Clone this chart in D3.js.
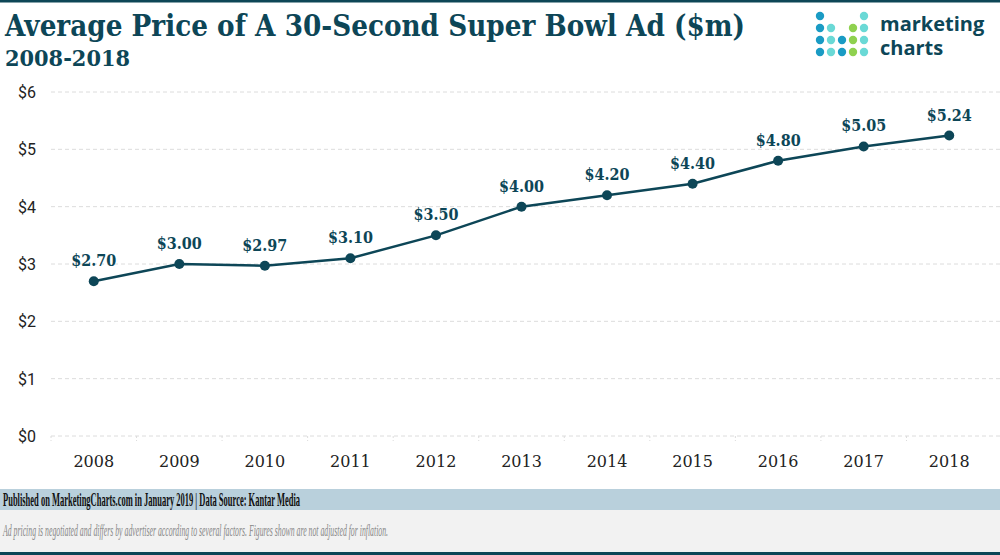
<!DOCTYPE html>
<html>
<head>
<meta charset="utf-8">
<script src="https://cdnjs.cloudflare.com/ajax/libs/d3/7.8.5/d3.min.js"></script>
<style>
  body { margin: 0; background: #fff; }
  svg { display: block; }
</style>
</head>
<body>
<svg id="chart"></svg>
<script>
// données
const years = ["2008", "2009", "2010", "2011", "2012", "2013", "2014", "2015", "2016", "2017", "2018"];
const prices = [2.70, 3.00, 2.97, 3.10, 3.50, 4.00, 4.20, 4.40, 4.80, 5.05, 5.24];
const yTicks = [0, 1, 2, 3, 4, 5, 6];

const W = 1000, H = 555;
const dark = "#0d4657";

const svg = d3.select("#chart").attr("width", W).attr("height", H);

// bande du haut
svg.append("rect").attr("x", 0).attr("y", 0).attr("width", W).attr("height", 2.5).attr("fill", dark);

// titre
svg.append("text")
    .attr("x", 5).attr("y", 36)
    .attr("textLength", 740).attr("lengthAdjust", "spacingAndGlyphs")
    .style("font-family", "'DejaVu Serif', serif").style("font-weight", "bold").style("font-size", "29px")
    .attr("fill", dark)
    .text("Average Price of A 30-Second Super Bowl Ad ($m)");

svg.append("text")
    .attr("x", 5).attr("y", 66)
    .attr("textLength", 125).attr("lengthAdjust", "spacingAndGlyphs")
    .style("font-family", "'DejaVu Serif', serif").style("font-weight", "bold").style("font-size", "22px")
    .attr("fill", dark)
    .text("2008-2018");

// logo
const logoCols = [820, 831, 842, 853, 864];
const logoRows = [16, 28, 40, 52];
const blue = "#1a9bc4", teal = "#6ad9d6", green = "#8fd14f";
const logoDots = [
    [blue, null, null, null, teal],
    [blue, teal, null, green, teal],
    [blue, teal, blue, green, teal],
    [blue, teal, blue, green, teal]
];
logoDots.forEach((row, ri) => row.forEach((c, ci) => {
    if (c) svg.append("circle").attr("cx", logoCols[ci]).attr("cy", logoRows[ri]).attr("r", 4.2).attr("fill", c);
}));
svg.append("text").attr("x", 880).attr("y", 31)
    .style("font-family", "'Open Sans', sans-serif").style("font-weight", "bold").style("font-size", "20px")
    .attr("fill", dark).text("marketing");
svg.append("text").attr("x", 880).attr("y", 55)
    .style("font-family", "'Open Sans', sans-serif").style("font-weight", "bold").style("font-size", "20px")
    .attr("fill", dark).text("charts");

// échelles
const x = d3.scaleBand().domain(years).range([51, 992]);
const y = d3.scaleLinear().domain([0, 6]).range([436, 92]);

// grille
svg.append("g").selectAll("line").data(yTicks).join("line")
    .attr("x1", 51).attr("x2", 1000)
    .attr("y1", d => y(d)).attr("y2", d => y(d))
    .attr("stroke", "#dcdcdc").attr("stroke-width", 1).attr("stroke-dasharray", "4,3");

// petites graduations en bas
svg.append("g").selectAll("line").data(years).join("line")
    .attr("x1", d => x(d)).attr("x2", d => x(d))
    .attr("y1", y(0)).attr("y2", y(0) + 5)
    .attr("stroke", "#dcdcdc").attr("stroke-dasharray", "2,2");

// axe y
svg.append("g").selectAll("text").data(yTicks).join("text")
    .attr("x", 36).attr("y", d => y(d) + 6)
    .attr("text-anchor", "end")
    .style("font-family", "Roboto, sans-serif").style("font-size", "16px")
    .attr("fill", "#222")
    .text(d => "$" + d);

// axe x
svg.append("g").selectAll("text").data(years).join("text")
    .attr("x", d => x(d) + x.bandwidth() / 2).attr("y", 467)
    .attr("text-anchor", "middle")
    .style("font-family", "'DejaVu Serif', serif").style("font-size", "16px")
    .attr("fill", "#222")
    .text(d => d);

// ligne
const pts = years.map((yr, i) => ({ yr, v: prices[i] }));
const line = d3.line().x(d => x(d.yr) + x.bandwidth() / 2).y(d => y(d.v));
svg.append("path").datum(pts)
    .attr("d", line).attr("fill", "none").attr("stroke", dark).attr("stroke-width", 2.5);

svg.append("g").selectAll("circle").data(pts).join("circle")
    .attr("cx", d => x(d.yr) + x.bandwidth() / 2).attr("cy", d => y(d.v))
    .attr("r", 5).attr("fill", dark);

svg.append("g").selectAll("text").data(pts).join("text")
    .attr("x", d => x(d.yr) + x.bandwidth() / 2).attr("y", d => y(d.v) - 15)
    .attr("text-anchor", "middle")
    .attr("textLength", 45).attr("lengthAdjust", "spacingAndGlyphs")
    .style("font-family", "'DejaVu Serif', serif").style("font-weight", "bold").style("font-size", "17px")
    .attr("fill", dark)
    .text(d => "$" + d.v.toFixed(2));

// pied de page
svg.append("rect").attr("x", 0).attr("y", 489).attr("width", W).attr("height", 21).attr("fill", "#b9d0dc");
svg.append("rect").attr("x", 0).attr("y", 510).attr("width", W).attr("height", 42).attr("fill", "#f2f2f2");
svg.append("rect").attr("x", 0).attr("y", 552).attr("width", W).attr("height", 3).attr("fill", dark);

svg.append("text").attr("x", 3).attr("y", 506)
    .attr("textLength", 297).attr("lengthAdjust", "spacingAndGlyphs")
    .style("font-family", "'Liberation Serif', serif").style("font-weight", "bold").style("font-size", "19px")
    .attr("fill", "#111")
    .text("Published on MarketingCharts.com in January 2019 | Data Source: Kantar Media");

svg.append("text").attr("x", 3).attr("y", 536)
    .attr("textLength", 385).attr("lengthAdjust", "spacingAndGlyphs")
    .style("font-family", "'Liberation Serif', serif").style("font-style", "italic").style("font-size", "17px")
    .attr("fill", "#888")
    .text("Ad pricing is negotiated and differs by advertiser according to several factors. Figures shown are not adjusted for inflation.");
</script>
</body>
</html>
